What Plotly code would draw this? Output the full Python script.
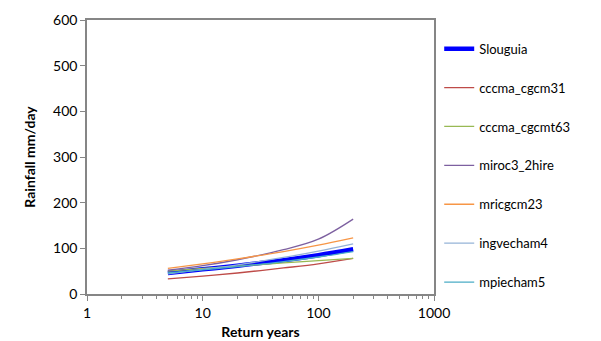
import plotly.graph_objects as go

return_years = [5, 10, 20, 50, 100, 200]
series_names = ["Slouguia", "cccma_cgcm31", "cccma_cgcmt63", "miroc3_2hire",
                "mricgcm23", "ingvecham4", "mpiecham5"]
slouguia = [46, 54, 62, 74, 85, 98]
cccma_cgcm31 = [33, 39, 46, 57, 66, 78]
cccma_cgcmt63 = [50, 56, 61, 68, 73, 78]
miroc3_2hire = [52, 62, 75, 97, 120, 164]
mricgcm23 = [56, 66, 77, 93, 107, 123]
ingvecham4 = [44, 54, 64, 80, 94, 110]
mpiecham5 = [46, 53, 60, 71, 81, 93]
x_tickvals = [1, 10, 100, 1000]
y_tickvals = [0, 100, 200, 300, 400, 500, 600]

values = [slouguia, cccma_cgcm31, cccma_cgcmt63, miroc3_2hire, mricgcm23, ingvecham4, mpiecham5]
colors = ["#0000FF", "#BE4B48", "#98B954", "#7D60A0", "#F79646", "#95B3D7", "#4BACC6"]
widths = [4.5, 1.3, 1.3, 1.3, 1.3, 1.3, 1.3]

fig = go.Figure()
for name, v, c, w in zip(series_names, values, colors, widths):
    fig.add_trace(go.Scatter(x=return_years, y=v, mode="lines", name=name,
                             line=dict(color=c, width=w, shape="spline", smoothing=1.0),
                             legendgroup=name))

font = "Lato, Liberation Sans, sans-serif"
fig.update_layout(
    width=601, height=341,
    margin=dict(l=87, r=167, t=20, b=47, autoexpand=False),
    paper_bgcolor="white", plot_bgcolor="white",
    font=dict(family=font, size=13, color="black"),
    showlegend=True,
    legend=dict(x=1.015, y=0.95, xanchor="left", yanchor="top",
                tracegroupgap=19, font=dict(size=13),
                bgcolor="rgba(0,0,0,0)", itemwidth=30),
    xaxis=dict(type="log", range=[0, 3], tickvals=x_tickvals,
               ticktext=[str(v) for v in x_tickvals],
               ticks="outside", ticklen=5, tickcolor="#868686",
               showline=True, linecolor="#868686", linewidth=1.5, mirror=True,
               showgrid=False, zeroline=False, tickfont=dict(size=14),
               minor=dict(ticks="outside", ticklen=3, tickcolor="#868686",
                          tickvals=[a * b for b in (1, 10, 100) for a in range(2, 10)]),
               title=dict(text="<b>Return years</b>", standoff=8, font=dict(size=14))),
    yaxis=dict(range=[0, 600], tickvals=y_tickvals,
               ticks="outside", ticklen=5, tickcolor="#868686",
               showline=True, linecolor="#868686", linewidth=1.5, mirror=True,
               showgrid=False, zeroline=False, tickfont=dict(size=14),
               title=dict(text="<b>Rainfall mm/day</b>", standoff=14, font=dict(size=14))),
)

fig.write_html("out.html", config={"displayModeBar": False},
               post_script="document.body.style.margin='0';")
